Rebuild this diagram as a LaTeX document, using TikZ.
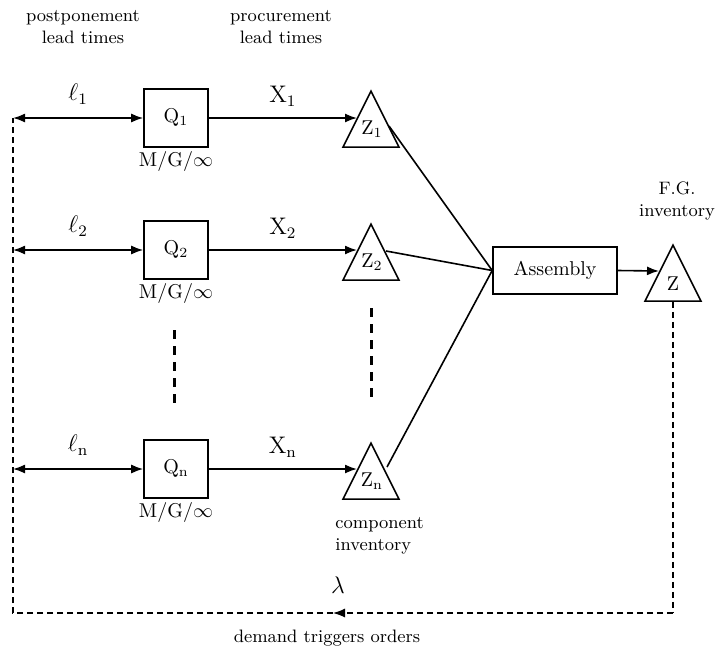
\documentclass[tikz,border=0pt]{standalone}
\usepackage{tikz}
\usetikzlibrary{calc, positioning, arrows.meta, shapes.geometric}

\begin{document}
\begin{tikzpicture}[
    x=0.5pt, y=-0.5pt,
    >={Latex[length=6pt,width=4.5pt]},
    line width=0.8pt,
    qbox/.style={draw, minimum width=32pt, minimum height=29pt, inner sep=0pt},
    stock/.style={draw, isosceles triangle, shape border rotate=90, isosceles triangle stretches, minimum width=28pt, minimum height=28pt, inner sep=0pt, anchor=apex},
    note/.style={font=\small, align=center},
    flowlabel/.style={font=\large},
    feedback/.style={dash pattern=on 3pt off 2pt, line width=0.6pt},
    ellipsis/.style={dash pattern=on 4.5pt off 3.5pt, line width=1.5pt}
]
    \useasboundingbox (0,0) rectangle (717,654);

    % Headings
    \node[note] (posthead) at (83,27) {postponement\\lead times};
    \node[note] (prochead) at (281,27) {procurement\\lead times};

    % Components
    % Queues
    \node[qbox] (q1) at (176,118) {$\mathrm{Q}_1$};
    \node[qbox] (q2) at (176,250) {$\mathrm{Q}_2$};
    \node[qbox] (qn) at (176,469) {$\mathrm{Q}_{\mathrm{n}}$};
    \foreach \q in {q1,q2,qn} {
        \node[below=0pt of \q, inner sep=1.5pt] (\q mg) {M/G/$\infty$};
    }

    % Component stocks (placed by apex)
    \node[stock] (z1) at (371,89) {};
    \node[stock] (z2) at (371,222) {};
    \node[stock] (zn) at (371,441) {};
    \node (z1lab) at ($(z1.apex)+(1,40)$) {$\mathrm{Z}_1$};
    \node (z2lab) at ($(z2.apex)+(1,40)$) {$\mathrm{Z}_2$};
    \node (znlab) at ($(zn.apex)+(1,40)$) {$\mathrm{Z}_{\mathrm{n}}$};
    \node[note, align=left, anchor=north west] (compinv) at (328,510) {component\\inventory};

    % Assembly and finished goods
    \node[draw, minimum width=62pt, minimum height=23.5pt] (asm) at (555,270.5) {Assembly};
    \node[stock] (zf) at (673,243) {};
    \node (zflab) at ($(zf.apex)+(0,41)$) {Z};
    \node[note] (fginv) at (677,201) {F.G.\\inventory};

    % Left feedback line
    \coordinate (l1) at (13,118);
    \coordinate (l2) at (13,250);
    \coordinate (ln) at (13,469);
    \coordinate (fbR) at (673,613);
    \coordinate (fbL) at (13,613);
    \coordinate (fbM) at (333,613);

    % Connections
    % postponement lead times
    \draw[<->] (l1) -- (q1.west) node[midway, above=3pt, flowlabel] (ell1) {$\ell_1$};
    \draw[<->] (l2) -- (q2.west) node[midway, above=3pt, flowlabel] (ell2) {$\ell_2$};
    \draw[<->] (ln) -- (qn.west) node[midway, above=3pt, flowlabel] (elln) {$\ell_{\mathrm{n}}$};

    % procurement lead times
    \draw[->] (q1.east) -- ($(z1.apex)+(-14,29)$) node[midway, above=2pt, flowlabel] (x1) {$\mathrm{X}_1$};
    \draw[->] (q2.east) -- ($(z2.apex)+(-14,28)$) node[midway, above=2pt, flowlabel] (x2) {$\mathrm{X}_2$};
    \draw[->] (qn.east) -- ($(zn.apex)+(-14,28)$) node[midway, above=2pt, flowlabel] (xn) {$\mathrm{X}_{\mathrm{n}}$};

    % components into assembly
    \draw ($(z1.apex)+(18,37)$) -- (asm.west);
    \draw ($(z2.apex)+(15,29)$) -- (asm.west);
    \draw ($(zn.apex)+(16,26)$) -- (asm.west);
    \draw[->] (asm.east) -- ($(zf.apex)+(-14,28)$);

    % dots between rows
    \draw[ellipsis] (174,330) -- (174,405);
    \draw[ellipsis] (371,308) -- (371,400);

    % demand triggers orders
    \draw[feedback] (zf.south) -- (fbR);
    \draw[feedback, ->] (fbR) -- (fbM);
    \draw[feedback] (fbM) -- (fbL) -- (l1);
    \node[font=\large] (lambda) at (338,585) {$\lambda$};
    \node[note] (demand) at (327,638) {demand triggers orders};

\end{tikzpicture}
\end{document}
